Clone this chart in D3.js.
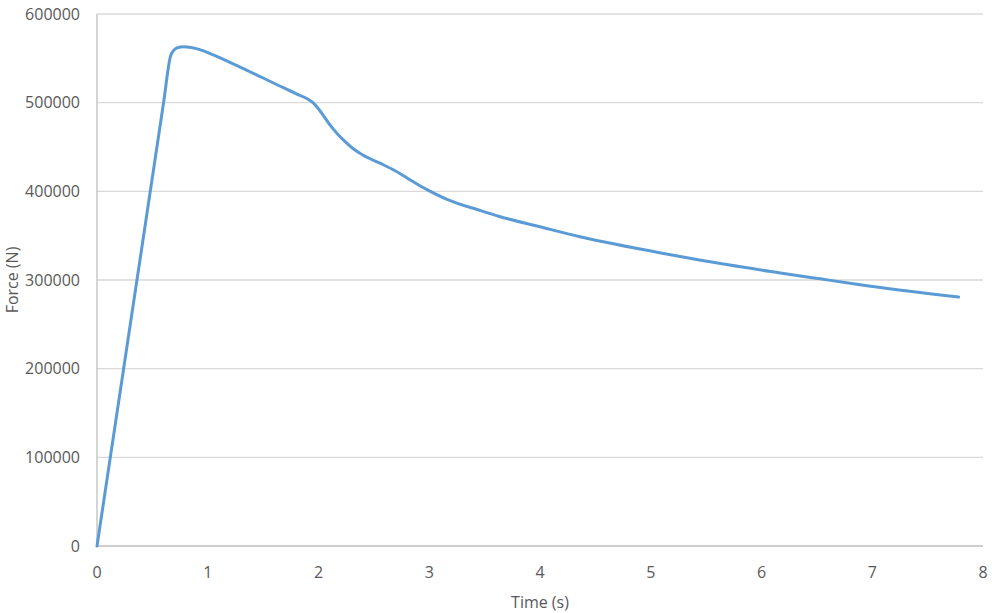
<!DOCTYPE html>
<html><head><meta charset="utf-8">
<script src="https://cdn.jsdelivr.net/npm/d3@7"></script>
<style>body{margin:0;background:#fff}text{font-family:"Open Sans",sans-serif;fill:#595959}</style>
</head><body><svg id="c" width="992" height="613"></svg>
<script>
const time = [0, 0.3, 0.6, 0.665, 0.70, 0.74, 0.78, 0.85, 0.95, 1.05, 1.2, 1.35, 1.5, 1.65, 1.8, 1.89, 1.95, 2.03, 2.10, 2.18, 2.25, 2.32, 2.40, 2.55, 2.68, 2.80, 2.90, 2.98, 3.16, 3.46, 3.64, 4.0, 4.36, 5.08, 5.44, 6.17, 6.53, 6.89, 7.78];
const force = [0, 249500, 499000, 553000, 560000, 562500, 563000, 562200, 559000, 553800, 545500, 536800, 527800, 518800, 510000, 505000, 500000, 488000, 475500, 463500, 455000, 447500, 441000, 432000, 424000, 415000, 407500, 402000, 391000, 378400, 371400, 360000, 348800, 330800, 322500, 308000, 301300, 294700, 280800];
const xTicks = [0,1,2,3,4,5,6,7,8];
const yTicks = [0,100000,200000,300000,400000,500000,600000];

const svg = d3.select("#c");
const L=97, R=983, T=14, B=546;
const x = d3.scaleLinear().domain([0,8]).range([L,R]);
const y = d3.scaleLinear().domain([0,600000]).range([B,T]);

svg.append("g").selectAll("line").data(yTicks.filter(d=>d>0)).join("line")
  .attr("x1",L).attr("x2",R).attr("y1",d=>y(d)).attr("y2",d=>y(d))
  .attr("stroke","#d9d9d9").attr("stroke-width",1.3);
svg.append("line").attr("x1",L).attr("x2",L).attr("y1",T).attr("y2",B).attr("stroke","#bfbfbf").attr("stroke-width",1.3);
svg.append("line").attr("x1",L).attr("x2",R).attr("y1",B).attr("y2",B).attr("stroke","#bfbfbf").attr("stroke-width",1.3);

svg.append("g").selectAll("text").data(yTicks).join("text")
  .attr("x",80).attr("y",d=>y(d)).attr("dy","0.35em").attr("text-anchor","end")
  .style("font-size","16px").text(d=>d);
svg.append("g").selectAll("text").data(xTicks).join("text")
  .attr("x",d=>x(d)).attr("y",572).attr("dy","0.35em").attr("text-anchor","middle")
  .style("font-size","16px").text(d=>d);

svg.append("text").attr("x",540).attr("y",602).attr("dy","0.35em").attr("text-anchor","middle")
  .style("font-size","16px").text("Time (s)");
svg.append("text").attr("transform","translate(12,280) rotate(-90)").attr("dy","0.35em").attr("text-anchor","middle")
  .style("font-size","16px").text("Force (N)");

const data = time.map((t,i)=>[t,force[i]]);
svg.append("path").datum(data)
  .attr("d", d3.line().x(d=>x(d[0])).y(d=>y(d[1])).curve(d3.curveMonotoneX))
  .attr("fill","none").attr("stroke","#5b9bd5").attr("stroke-width",3).attr("stroke-linejoin","round").attr("stroke-linecap","round");
</script></body></html>
